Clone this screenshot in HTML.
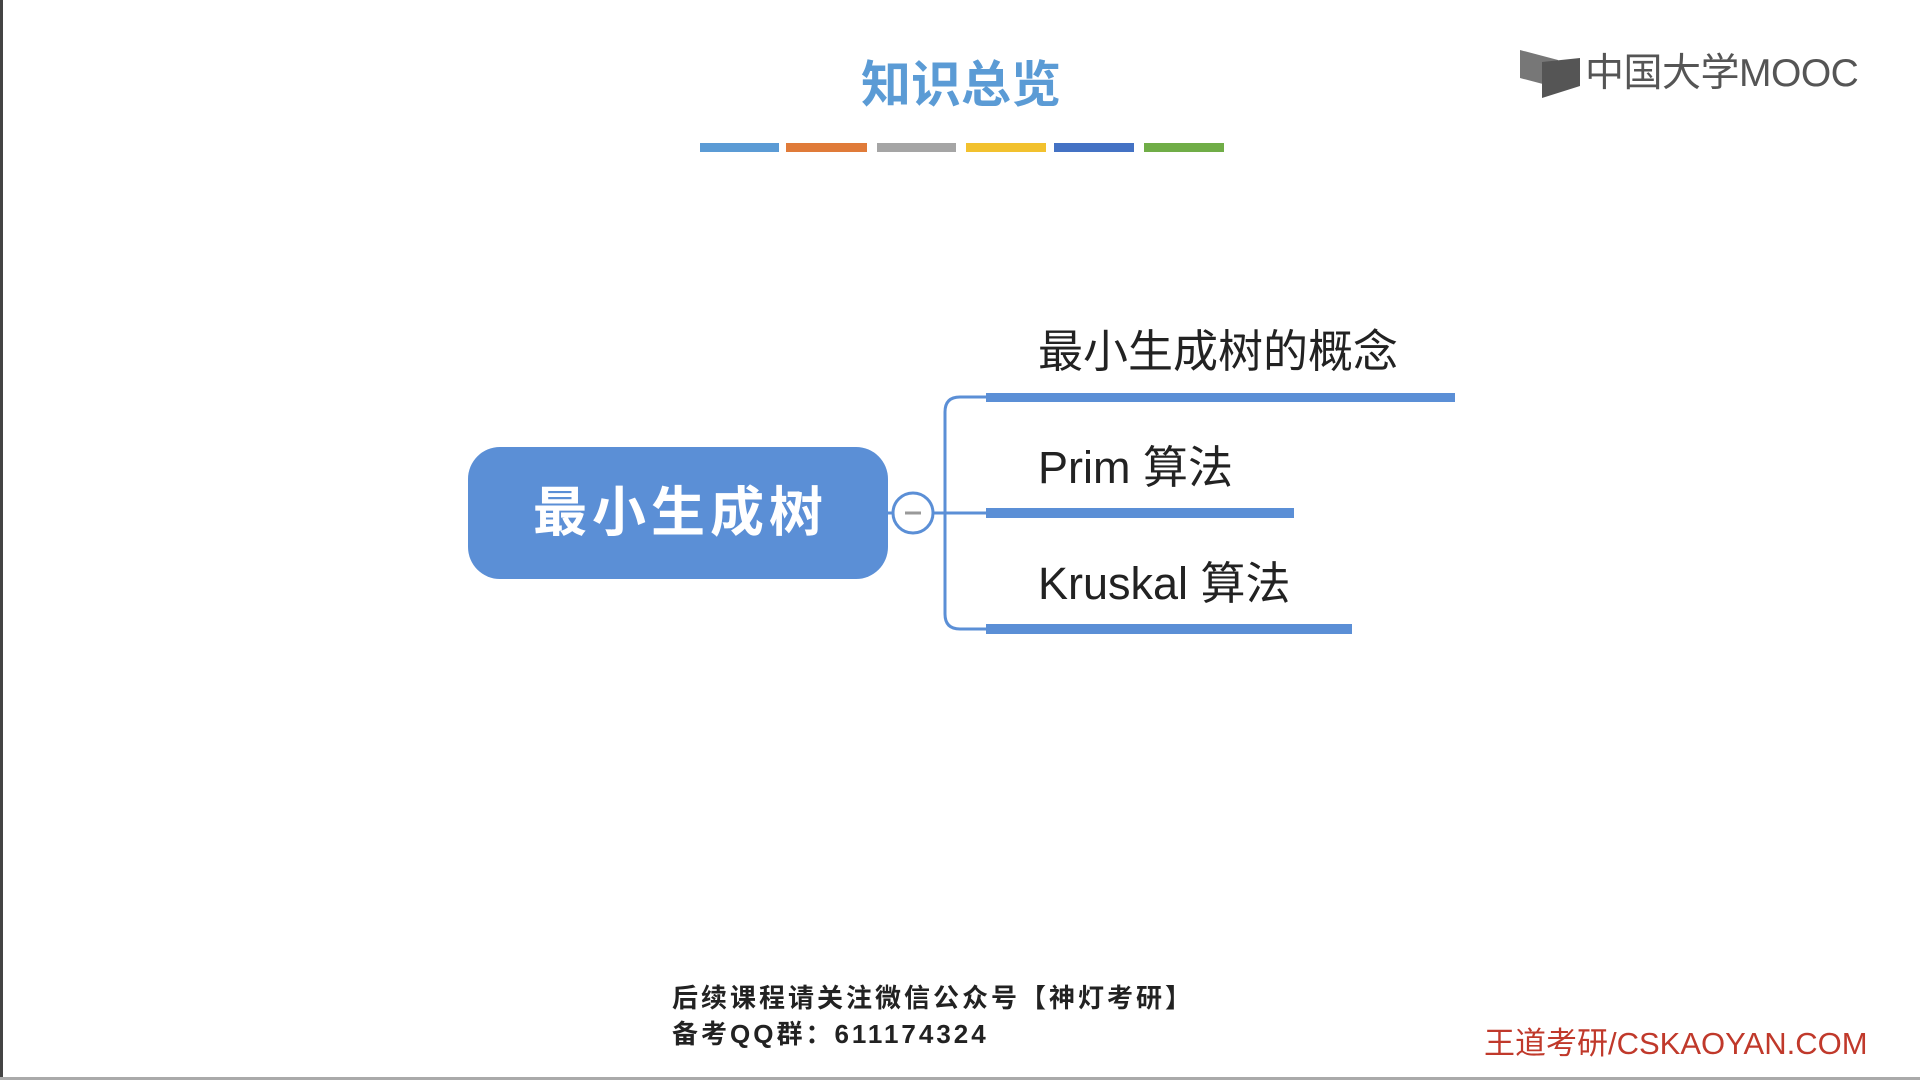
<!DOCTYPE html>
<html><head><meta charset="utf-8"><style>
html,body{margin:0;padding:0;width:1920px;height:1080px;overflow:hidden;background:#fff;}
body{position:relative;font-family:"Liberation Sans","Noto Sans CJK SC",sans-serif;}
.a{position:absolute;white-space:nowrap;}
.bar{position:absolute;height:9px;top:143px;width:79px;}
</style></head><body>
<div style="position:absolute;left:0;top:0;width:3px;height:1080px;background:#444"></div>
<div style="position:absolute;left:0;top:1077px;width:1920px;height:3px;background:#aaa"></div>
<div class="a" style="left:0;width:1922px;text-align:center;top:55px;font-size:50px;font-weight:bold;color:#5b9bd5;line-height:60px;">知识总览</div>
<div class="bar" style="left:700px;background:#5b9bd5"></div>
<div class="bar" style="left:786px;background:#e07b39;width:81px"></div>
<div class="bar" style="left:877px;background:#a5a5a5"></div>
<div class="bar" style="left:966px;background:#f2c12e;width:80px"></div>
<div class="bar" style="left:1054px;background:#4472c4;width:80px"></div>
<div class="bar" style="left:1144px;background:#70ad47;width:80px"></div>
<svg class="a" style="left:1518px;top:48px" width="64" height="52" viewBox="0 0 64 52">
<polygon points="2,2 40,12 40,40 2,30" fill="#777"/>
<polygon points="24,14 62,10 62,38 24,50" fill="#555"/>
</svg>
<div class="a" style="left:1585px;top:50px;font-size:39px;letter-spacing:-0.5px;color:#555;line-height:48px;">中国大学MOOC</div>
<div class="a" style="left:468px;top:447px;width:420px;height:132px;border-radius:32px;background:#5b8fd6;color:#fff;font-size:54px;font-weight:bold;line-height:132px;text-align:center;letter-spacing:5px;text-indent:5px;">最小生成树</div>
<svg class="a" style="left:0;top:0" width="1920" height="1080">
<g fill="none" stroke="#5b8fd6" stroke-width="3">
<line x1="888" y1="513" x2="893" y2="513"/>
<line x1="933" y1="513" x2="990" y2="513"/>
<path d="M988 397 H960 Q945 397 945 412 V614 Q945 629 960 629 H988"/>
<circle cx="913" cy="513" r="20" fill="#fff"/>
<line x1="905" y1="513" x2="921" y2="513" stroke="#999"/>
</g>
<rect x="986" y="393" width="469" height="9" fill="#5b8fd6"/>
<rect x="986" y="508" width="308" height="10" fill="#5b8fd6"/>
<rect x="986" y="624" width="366" height="10" fill="#5b8fd6"/>
</svg>
<div class="a" style="left:1038px;top:324px;font-size:45px;color:#222;line-height:56px;">最小生成树的概念</div>
<div class="a" style="left:1038px;top:440px;font-size:45px;color:#222;line-height:56px;">Prim 算法</div>
<div class="a" style="left:1038px;top:556px;font-size:45px;color:#222;line-height:56px;">Kruskal 算法</div>
<div class="a" style="left:672px;top:982px;font-size:26px;font-weight:bold;color:#222;line-height:32px;letter-spacing:3px;">后续课程请关注微信公众号【神灯考研】</div>
<div class="a" style="left:672px;top:1018px;font-size:26px;font-weight:bold;color:#222;line-height:32px;letter-spacing:3px;">备考QQ群：611174324</div>
<div class="a" style="left:1484px;top:1026px;font-size:31px;color:#c0392b;line-height:36px;">王道考研/CSKAOYAN.COM</div>
</body></html>
